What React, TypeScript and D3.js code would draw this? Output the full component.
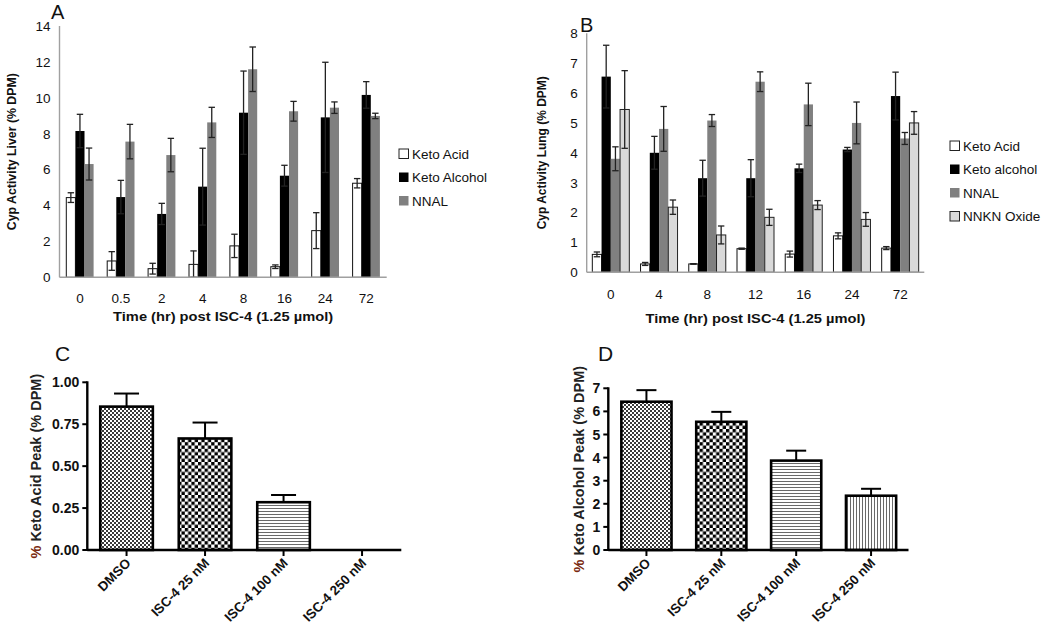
import React from "react";
import * as d3 from "d3";

// ---------- Panel A (liver) ----------
const timesA = ["0", "0.5", "2", "4", "8", "16", "24", "72"];
const ketoAcidA = [4.44, 0.91, 0.48, 0.72, 1.75, 0.59, 2.6, 5.24];
const ketoAcidAErr = [0.27, 0.52, 0.3, 0.75, 0.65, 0.1, 1.0, 0.26];
const ketoAlcoholA = [8.15, 4.47, 3.53, 5.05, 9.17, 5.66, 8.91, 10.16];
const ketoAlcoholAErr = [0.93, 0.93, 0.59, 2.14, 2.32, 0.58, 3.07, 0.74];
const nnalA = [6.31, 7.56, 6.81, 8.63, 11.59, 9.25, 9.45, 8.99];
const nnalAErr = [0.89, 0.96, 0.93, 0.84, 1.24, 0.55, 0.32, 0.15];
const yTicksA = [0, 2, 4, 6, 8, 10, 12, 14];

// ---------- Panel B (lung) ----------
const timesB = ["0", "4", "8", "12", "16", "24", "72"];
const ketoAcidB = [0.6, 0.28, 0.28, 0.79, 0.61, 1.22, 0.81];
const ketoAcidBErr = [0.08, 0.05, 0.01, 0.02, 0.1, 0.1, 0.05];
const ketoAlcoholB = [6.55, 4.0, 3.15, 3.15, 3.48, 4.11, 5.9];
const ketoAlcoholBErr = [1.05, 0.55, 0.6, 0.62, 0.14, 0.07, 0.8];
const nnalB = [3.8, 4.8, 5.08, 6.38, 5.62, 5.0, 4.48];
const nnalBErr = [0.4, 0.75, 0.2, 0.33, 0.71, 0.7, 0.2];
const oxideB = [5.45, 2.18, 1.25, 1.84, 2.25, 1.77, 5.0];
const oxideBErr = [1.3, 0.24, 0.3, 0.27, 0.15, 0.23, 0.38];
const yTicksB = [0, 1, 2, 3, 4, 5, 6, 7, 8];

// ---------- Panels C & D ----------
const treatments = ["DMSO", "ISC-4 25 nM", "ISC-4 100 nM", "ISC-4 250 nM"];
const ketoAcidPeak = [0.855, 0.665, 0.285, 0];
const ketoAcidPeakErr = [0.078, 0.095, 0.043, 0];
const ketoAlcoholPeak = [6.42, 5.55, 3.87, 2.35];
const ketoAlcoholPeakErr = [0.5, 0.43, 0.43, 0.3];
const yTicksC = [0, 0.25, 0.5, 0.75, 1.0];
const yTicksD = [0, 1, 2, 3, 4, 5, 6, 7];

const FONT = "'Liberation Sans', Arial, Helvetica, sans-serif";

type Series = { name: string; values: number[]; errors: number[]; fill: string; stroke: string };

const seriesA: Series[] = [
  { name: "Keto Acid", values: ketoAcidA, errors: ketoAcidAErr, fill: "#ffffff", stroke: "#111" },
  { name: "Keto Alcohol", values: ketoAlcoholA, errors: ketoAlcoholAErr, fill: "#000000", stroke: "none" },
  { name: "NNAL", values: nnalA, errors: nnalAErr, fill: "#808080", stroke: "none" },
];
const seriesB: Series[] = [
  { name: "Keto Acid", values: ketoAcidB, errors: ketoAcidBErr, fill: "#ffffff", stroke: "#111" },
  { name: "Keto alcohol", values: ketoAlcoholB, errors: ketoAlcoholBErr, fill: "#000000", stroke: "none" },
  { name: "NNAL", values: nnalB, errors: nnalBErr, fill: "#808080", stroke: "none" },
  { name: "NNKN Oxide", values: oxideB, errors: oxideBErr, fill: "#d9d9d9", stroke: "#222" },
];

type GP = {
  letter: string; letterX: number; letterY: number;
  categories: string[]; series: Series[];
  xRange: [number, number]; yRange: [number, number]; yMax: number; yTicks: number[];
  groupWidth: number; yTitle: string; yTitleX: number; yTitleLen: number;
  xLabelY: number; xTitleY: number; legendX: number; legendY: number; legendDy: number;
};

function GroupedPanel(p: GP) {
  const x = d3.scaleBand<string>().domain(p.categories).range(p.xRange).padding(0);
  const bw = x.bandwidth();
  const xi = d3.scaleBand<string>().domain(p.series.map((s) => s.name))
    .range([(bw - p.groupWidth) / 2, (bw + p.groupWidth) / 2]).padding(0);
  const y = d3.scaleLinear().domain([0, p.yMax]).range(p.yRange);
  const barW = xi.bandwidth();
  const midY = (p.yRange[0] + p.yRange[1]) / 2;
  return (
    <g fontFamily={FONT}>
      <text x={p.letterX} y={p.letterY} fontSize={20} fill="#111">{p.letter}</text>
      {p.categories.map((c, i) => (
        <g key={c}>
          {p.series.map((s) => {
            const x0 = (x(c) as number) + (xi(s.name) as number);
            const v = s.values[i];
            return (
              <rect key={s.name} x={x0} y={y(v)} width={barW} height={y(0) - y(v)}
                fill={s.fill} stroke={s.stroke} strokeWidth={s.stroke === "none" ? 0 : 1} />
            );
          })}
          {p.series.map((s) => {
            const cx = (x(c) as number) + (xi(s.name) as number) + barW / 2;
            const v = s.values[i], e = s.errors[i];
            const y1 = y(v + e), y2 = y(Math.max(0, v - e));
            return (
              <g key={s.name + "e"} stroke="#222" strokeWidth={1.3}>
                <line x1={cx} x2={cx} y1={y1} y2={y2} />
                <line x1={cx - 3.2} x2={cx + 3.2} y1={y1} y2={y1} />
                <line x1={cx - 3.2} x2={cx + 3.2} y1={y2} y2={y2} />
              </g>
            );
          })}
          <text x={(x(c) as number) + bw / 2} y={p.xLabelY} fontSize={13.5} textAnchor="middle" fill="#111">{c}</text>
        </g>
      ))}
      <line x1={p.xRange[0]} x2={p.xRange[0]} y1={p.yRange[1]} y2={p.yRange[0]} stroke="#a0a0a0" strokeWidth={1.4} />
      <line x1={p.xRange[0]} x2={p.xRange[1]} y1={p.yRange[0]} y2={p.yRange[0]} stroke="#a0a0a0" strokeWidth={1.4} />
      {p.yTicks.map((t) => (
        <text key={t} x={p.xRange[0] - 9} y={y(t)} dy="0.36em" fontSize={13.5} textAnchor="end" fill="#111">{t}</text>
      ))}
      <text transform={`translate(${p.yTitleX},${midY + 0}) rotate(-90)`} textAnchor="middle" dy="0.35em"
        fontSize={13} fontWeight="bold" fill="#111" textLength={p.yTitleLen} lengthAdjust="spacingAndGlyphs">
        {p.yTitle}
      </text>
      <text x={(p.xRange[0] + p.xRange[1]) / 2} y={p.xTitleY} fontSize={13} fontWeight="bold" textAnchor="middle" fill="#111"
        textLength={220} lengthAdjust="spacingAndGlyphs">
        Time (hr) post ISC-4 (1.25 {"\u00b5"}mol)
      </text>
      {p.series.map((s, i) => (
        <g key={s.name}>
          <rect x={p.legendX} y={p.legendY + i * p.legendDy - 5} width={9.5} height={9.5} fill={s.fill}
            stroke={s.fill === "#ffffff" || s.fill === "#d9d9d9" ? "#222" : "none"} strokeWidth={1} />
          <text x={p.legendX + 13} y={p.legendY + i * p.legendDy} dy="0.36em" fontSize={13.5} fill="#111">{s.name}</text>
        </g>
      ))}
    </g>
  );
}

type SP = {
  letter: string; letterX: number; letterY: number;
  values: number[]; errors: number[]; xRange: [number, number]; axisX: number;
  yRange: [number, number]; yMax: number; yTicks: number[]; fmt: (n: number) => string;
  yTitle: string; yTitleX: number; capW: number; patId: string;
};

const patterns = ["pFine", "pCheck", "pHLines", "pVLines"];

function SinglePanel(p: SP) {
  const x = d3.scaleBand<string>().domain(treatments).range(p.xRange).padding(0);
  const bw = x.bandwidth();
  const barW = bw * 0.67;
  const y = d3.scaleLinear().domain([0, p.yMax]).range(p.yRange);
  const midY = (p.yRange[0] + p.yRange[1]) / 2;
  return (
    <g fontFamily={FONT}>
      <text x={p.letterX} y={p.letterY} fontSize={21} fill="#111">{p.letter}</text>
      {treatments.map((c, i) => {
        const cx = (x(c) as number) + bw / 2;
        const v = p.values[i], e = p.errors[i];
        return (
          <g key={c}>
            {v > 0 && (
              <>
                <line x1={cx} x2={cx} y1={y(v)} y2={y(v + e)} stroke="#000" strokeWidth={2} />
                <line x1={cx - p.capW / 2} x2={cx + p.capW / 2} y1={y(v + e)} y2={y(v + e)} stroke="#000" strokeWidth={2} />
                <rect x={cx - barW / 2} y={y(v)} width={barW} height={y(0) - y(v)}
                  fill={`url(#${p.patId}${patterns[i]})`} stroke="#000" strokeWidth={2.6} />
              </>
            )}
            <line x1={cx} x2={cx} y1={y(0)} y2={y(0) + 6} stroke="#000" strokeWidth={2} />
            <text transform={`translate(${cx + 5},${y(0) + 14}) rotate(-45)`} textAnchor="end" fontSize={13.3}
              fontWeight="bold" fill="#111">{c}</text>
          </g>
        );
      })}
      <line x1={p.axisX} x2={p.axisX} y1={p.yRange[1] - 1} y2={p.yRange[0] + 1} stroke="#000" strokeWidth={2.4} />
      <line x1={p.axisX} x2={p.xRange[1]} y1={p.yRange[0]} y2={p.yRange[0]} stroke="#000" strokeWidth={2.4} />
      {p.yTicks.map((t) => (
        <g key={t}>
          <line x1={p.axisX - 5} x2={p.axisX} y1={y(t)} y2={y(t)} stroke="#000" strokeWidth={2} />
          <text x={p.axisX - 8} y={y(t)} dy="0.36em" fontSize={14} fontWeight="bold" textAnchor="end" fill="#111">{p.fmt(t)}</text>
        </g>
      ))}
      <text transform={`translate(${p.yTitleX},${midY + 0}) rotate(-90)`} textAnchor="middle" dy="0.35em"
        fontSize={14.5} fontWeight="bold" fill="#222">
        <tspan fill="#7a2a10">%</tspan> {p.yTitle}
      </text>
    </g>
  );
}

function PatternDefs({ id }: { id: string }) {
  return (
    <>
      <pattern id={id + "pFine"} width={4} height={4} patternUnits="userSpaceOnUse">
        <rect width={4} height={4} fill="#ffffff" />
        <rect x={0} y={0} width={2} height={2} fill="#3a3a3a" />
        <rect x={2} y={2} width={2} height={2} fill="#3a3a3a" />
      </pattern>
      <pattern id={id + "pCheck"} width={6.6} height={6.6} patternUnits="userSpaceOnUse">
        <rect width={6.6} height={6.6} fill="#ffffff" />
        <rect x={0} y={0} width={3.3} height={3.3} fill="#000" />
        <rect x={3.3} y={3.3} width={3.3} height={3.3} fill="#000" />
      </pattern>
      <pattern id={id + "pHLines"} width={6} height={3} patternUnits="userSpaceOnUse">
        <rect width={6} height={3} fill="#ffffff" />
        <line x1={0} x2={6} y1={1.5} y2={1.5} stroke="#6a6a6a" strokeWidth={1} />
      </pattern>
      <pattern id={id + "pVLines"} width={3} height={6} patternUnits="userSpaceOnUse">
        <rect width={3} height={6} fill="#ffffff" />
        <line x1={1.5} x2={1.5} y1={0} y2={6} stroke="#6a6a6a" strokeWidth={1} />
      </pattern>
    </>
  );
}

export default function App() {
  return (
    <svg width={1050} height={624} style={{ position: "absolute", left: 0, top: 0, background: "#fff" }}>
      <defs>
        <PatternDefs id="c" />
        <PatternDefs id="d" />
      </defs>
      <rect width={1050} height={624} fill="#fff" />
      <GroupedPanel letter="A" letterX={51} letterY={18.5} categories={timesA} series={seriesA}
        xRange={[59.5, 386.7]} yRange={[277.3, 26]} yMax={14} yTicks={yTicksA} groupWidth={27.3}
        yTitle="Cyp Activity Liver (% DPM)" yTitleX={11} yTitleLen={157}
        xLabelY={302.5} xTitleY={321} legendX={399} legendY={154} legendDy={23.5} />
      <GroupedPanel letter="B" letterX={580} letterY={31.5} categories={timesB} series={seriesB}
        xRange={[586.7, 924.3]} yRange={[272.3, 33.3]} yMax={8} yTicks={yTicksB} groupWidth={37}
        yTitle="Cyp Activity Lung (% DPM)" yTitleX={541} yTitleLen={153}
        xLabelY={298.5} xTitleY={323} legendX={950} legendY={146} legendDy={23.5} />
      <SinglePanel letter="C" letterX={55} letterY={361} values={ketoAcidPeak} errors={ketoAcidPeakErr}
        xRange={[87.3, 401.3]} axisX={87.3} yRange={[550, 382.3]} yMax={1} yTicks={yTicksC}
        fmt={(n) => n.toFixed(2)} yTitle="Keto Acid Peak (% DPM)" yTitleX={36} capW={25} patId="c" />
      <SinglePanel letter="D" letterX={598} letterY={361} values={ketoAlcoholPeak} errors={ketoAlcoholPeakErr}
        xRange={[609, 908.5]} axisX={608.3} yRange={[550, 388.3]} yMax={7} yTicks={yTicksD}
        fmt={(n) => String(n)} yTitle="Keto Alcohol Peak (% DPM)" yTitleX={579} capW={20} patId="d" />
    </svg>
  );
}
